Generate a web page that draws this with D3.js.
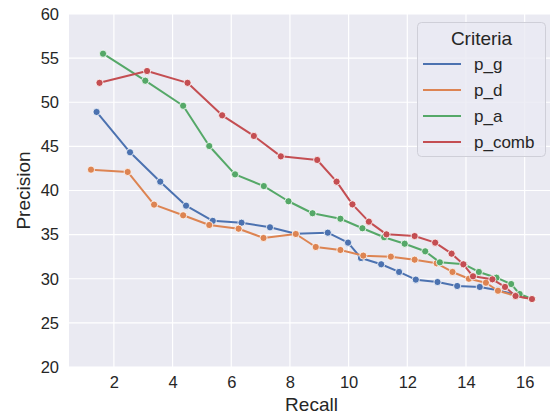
<!DOCTYPE html>
<html>
<head>
<meta charset="utf-8">
<script src="https://cdn.jsdelivr.net/npm/d3@7"></script>
<style>
  body { margin: 0; background: #ffffff; }
  svg text { font-family: "Liberation Sans", Arial, sans-serif; fill: #262626; }
</style>
</head>
<body>
<svg id="chart" width="550" height="416"></svg>
<script>
// data
const series = ["p_g", "p_d", "p_a", "p_comb"];
const colors = ["#4c72b0", "#dd8452", "#55a868", "#c44e52"];

const recall_g = [1.41, 2.55, 3.58, 4.46, 5.37, 6.35, 7.32, 8.2, 9.29, 9.98, 10.42, 11.11, 11.72, 12.29, 13.03, 13.7, 14.47, 15.09, 16.25];
const prec_g   = [48.9, 44.33, 41.0, 38.28, 36.56, 36.35, 35.83, 35.1, 35.22, 34.09, 32.35, 31.64, 30.77, 29.9, 29.63, 29.18, 29.07, 28.7, 27.7];

const recall_d = [1.22, 2.47, 3.37, 4.36, 5.25, 6.25, 7.1, 8.2, 8.88, 9.72, 10.5, 11.44, 12.25, 13.0, 13.54, 14.1, 14.68, 15.09, 15.69, 16.25];
const prec_d   = [42.36, 42.1, 38.4, 37.19, 36.09, 35.67, 34.62, 35.07, 33.6, 33.26, 32.62, 32.5, 32.16, 31.75, 30.77, 30.0, 29.55, 28.64, 28.05, 27.7];

const recall_a = [1.63, 3.07, 4.36, 5.25, 6.13, 7.11, 7.95, 8.77, 9.72, 10.47, 11.21, 11.91, 12.61, 13.11, 13.94, 14.44, 15.04, 15.54, 15.83, 16.25];
const prec_a   = [55.5, 52.44, 49.6, 45.04, 41.83, 40.5, 38.78, 37.42, 36.8, 35.72, 34.7, 33.97, 33.11, 31.86, 31.64, 30.77, 30.12, 29.4, 28.27, 27.7];

const recall_comb = [1.51, 3.13, 4.51, 5.69, 6.77, 7.69, 8.93, 9.59, 10.13, 10.69, 11.29, 12.25, 12.95, 13.51, 13.91, 14.24, 14.9, 15.33, 15.69, 16.25];
const prec_comb   = [52.2, 53.54, 52.2, 48.52, 46.18, 43.87, 43.46, 41.0, 38.43, 36.47, 35.03, 34.84, 34.09, 32.84, 31.64, 30.28, 29.94, 29.07, 28.05, 27.7];

const xTicks = [2, 4, 6, 8, 10, 12, 14, 16];
const yTicks = [20, 25, 30, 35, 40, 45, 50, 55, 60];

const recalls = [recall_g, recall_d, recall_a, recall_comb];
const precs = [prec_g, prec_d, prec_a, prec_comb];
const dataset = series.map((name, i) => ({
    name: name,
    color: colors[i],
    points: recalls[i].map((r, j) => ({ x: r, y: precs[i][j] }))
}));

// layout
const plotLeft = 69, plotRight = 554, plotTop = 14, plotBottom = 367;

const svg = d3.select("#chart");

const xScale = d3.scaleLinear().domain([0.47, 17.0]).range([plotLeft, plotRight]);
const yScale = d3.scaleLinear().domain([20, 60]).range([plotBottom, plotTop]);

svg.append("rect")
    .attr("x", plotLeft).attr("y", plotTop)
    .attr("width", plotRight - plotLeft).attr("height", plotBottom - plotTop)
    .attr("fill", "#eaeaf2");

// grid
svg.append("g").selectAll("line")
    .data(xTicks).join("line")
    .attr("x1", d => xScale(d)).attr("x2", d => xScale(d))
    .attr("y1", plotTop).attr("y2", plotBottom)
    .attr("stroke", "#ffffff").attr("stroke-width", 1.2);

svg.append("g").selectAll("line")
    .data(yTicks).join("line")
    .attr("x1", plotLeft).attr("x2", plotRight)
    .attr("y1", d => yScale(d)).attr("y2", d => yScale(d))
    .attr("stroke", "#ffffff").attr("stroke-width", 1.2);

// axes (text only, seaborn style)
const bottomAxis = d3.axisBottom(xScale).tickValues(xTicks).tickSize(0).tickPadding(9);
const leftAxis = d3.axisLeft(yScale).tickValues(yTicks).tickSize(0).tickPadding(10);

const gx = svg.append("g").attr("transform", "translate(0," + plotBottom + ")").call(bottomAxis);
const gy = svg.append("g").attr("transform", "translate(" + plotLeft + ",0)").call(leftAxis);
[gx, gy].forEach(g => {
    g.select(".domain").remove();
    g.selectAll("text")
        .attr("font-size", 16.5)
        .attr("font-family", "Liberation Sans, Arial, sans-serif")
        .attr("fill", "#262626");
});

svg.append("text")
    .attr("x", (plotLeft + plotRight) / 2)
    .attr("y", 411)
    .attr("text-anchor", "middle")
    .attr("font-size", 19)
    .text("Recall");

svg.append("text")
    .attr("transform", "translate(30," + ((plotTop + plotBottom) / 2) + ") rotate(-90)")
    .attr("text-anchor", "middle")
    .attr("font-size", 19)
    .text("Precision");

// lines + markers
const line = d3.line().x(d => xScale(d.x)).y(d => yScale(d.y));

const plot = svg.append("g");
dataset.forEach(s => {
    plot.append("path")
        .datum(s.points)
        .attr("d", line)
        .attr("fill", "none")
        .attr("stroke", s.color)
        .attr("stroke-width", 2)
        .attr("stroke-linejoin", "round");
    plot.append("g").selectAll("circle")
        .data(s.points).join("circle")
        .attr("cx", d => xScale(d.x))
        .attr("cy", d => yScale(d.y))
        .attr("r", 3.6)
        .attr("fill", s.color)
        .attr("stroke", "#ffffff")
        .attr("stroke-width", 0.8);
});

// legend
const legend = svg.append("g");
legend.append("rect")
    .attr("x", 417.5).attr("y", 22.5)
    .attr("width", 128).attr("height", 134)
    .attr("rx", 4)
    .attr("fill", "#eaeaf2").attr("fill-opacity", 0.8)
    .attr("stroke", "#cfcfd8").attr("stroke-width", 1);

legend.append("text")
    .attr("x", 481.5).attr("y", 45)
    .attr("text-anchor", "middle")
    .attr("font-size", 19)
    .text("Criteria");

const items = legend.selectAll("g.item")
    .data(dataset).join("g")
    .attr("class", "item")
    .attr("transform", (d, i) => "translate(0," + (64 + i * 26) + ")");

items.append("line")
    .attr("x1", 423).attr("x2", 461)
    .attr("y1", 0).attr("y2", 0)
    .attr("stroke", d => d.color)
    .attr("stroke-width", 2);

items.append("text")
    .attr("x", 474).attr("y", 6)
    .attr("font-size", 17)
    .text(d => d.name);
</script>
</body>
</html>
